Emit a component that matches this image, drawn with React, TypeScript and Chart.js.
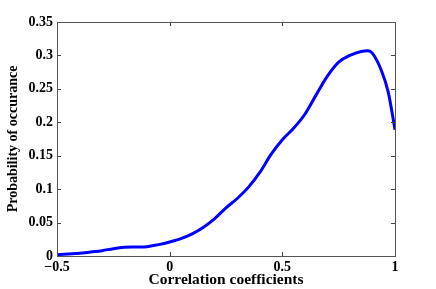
import React, { useEffect, useRef } from "react";
import { Chart, registerables } from "chart.js";

Chart.register(...registerables);

const xValues = [-0.5, -0.45, -0.4, -0.35, -0.3, -0.25, -0.2, -0.15, -0.1, -0.05, 0, 0.05, 0.1, 0.15, 0.2, 0.25, 0.3, 0.35, 0.4, 0.45, 0.5, 0.55, 0.6, 0.65, 0.7, 0.75, 0.8, 0.85, 0.88, 0.9, 0.94, 0.97, 1.0];
const yValues = [0.002, 0.003, 0.004, 0.006, 0.008, 0.011, 0.013, 0.0135, 0.014, 0.017, 0.021, 0.026, 0.033, 0.043, 0.056, 0.072, 0.086, 0.103, 0.125, 0.152, 0.174, 0.191, 0.212, 0.241, 0.269, 0.29, 0.3, 0.306, 0.307, 0.303, 0.277, 0.245, 0.189];
const xTicks = [-0.5, 0, 0.5, 1];
const yTicks = [0, 0.05, 0.1, 0.15, 0.2, 0.25, 0.3, 0.35];
const xTitle = "Correlation coefficients";
const yTitle = "Probability of occurance";

const FONT = "'Liberation Serif', 'Times New Roman', serif";

const fmt = (v: number) => (v < 0 ? "\u2212" + String(Math.abs(v)) : String(v));

const framePlugin = {
  id: "frame",
  afterDatasetsDraw(chart: any) {
    const { ctx, chartArea: a, scales } = chart;
    ctx.save();
    ctx.strokeStyle = "#444";
    ctx.lineWidth = 1;
    const L = 4;
    ctx.beginPath();
    for (const v of xTicks) {
      const px = Math.round(scales.x.getPixelForValue(v)) + 0.5;
      ctx.moveTo(px, a.bottom);
      ctx.lineTo(px, a.bottom - L);
      ctx.moveTo(px, a.top);
      ctx.lineTo(px, a.top + L);
    }
    for (const v of yTicks) {
      const py = Math.round(scales.y.getPixelForValue(v)) + 0.5;
      ctx.moveTo(a.left, py);
      ctx.lineTo(a.left + L, py);
      ctx.moveTo(a.right, py);
      ctx.lineTo(a.right - L, py);
    }
    ctx.stroke();
    ctx.strokeStyle = "#555";
    ctx.strokeRect(Math.round(a.left) + 0.5, Math.round(a.top) + 0.5, Math.round(a.right - a.left), Math.round(a.bottom - a.top));
    ctx.restore();
  },
};

export default function App() {
  const ref = useRef<HTMLCanvasElement | null>(null);
  useEffect(() => {
    if (!ref.current) return;
    const chart = new Chart(ref.current, {
      type: "line",
      data: {
        datasets: [
          {
            data: xValues.map((x, i) => ({ x, y: yValues[i] })),
            borderColor: "#0000ff",
            borderWidth: 3,
            pointRadius: 0,
            tension: 0.4,
            cubicInterpolationMode: "monotone",
            fill: false,
          },
        ],
      },
      options: {
        animation: false,
        responsive: false,
        maintainAspectRatio: false,
        layout: { padding: { top: 22, right: 41, left: 0, bottom: 0 } },
        plugins: { legend: { display: false }, tooltip: { enabled: false } },
        scales: {
          x: {
            type: "linear",
            min: -0.5,
            max: 1,
            afterBuildTicks: (s: any) => {
              s.ticks = xTicks.map((v) => ({ value: v }));
            },
            afterFit: (s: any) => {
              s.height = 33;
            },
            grid: { display: false, drawTicks: false, tickLength: 0 },
            border: { display: false },
            ticks: {
              color: "#000",
              padding: 3,
              font: { family: FONT, size: 14, weight: "bold" },
              callback: (v: any) => fmt(Number(v)),
              maxRotation: 0,
            },
            title: {
              display: true,
              text: xTitle,
              color: "#000",
              padding: { top: 0, bottom: 0 },
              font: { family: FONT, size: 15.5, weight: "bold" },
            },
          },
          y: {
            type: "linear",
            min: 0,
            max: 0.35,
            afterBuildTicks: (s: any) => {
              s.ticks = yTicks.map((v) => ({ value: v }));
            },
            afterFit: (s: any) => {
              s.width = 57;
            },
            grid: { display: false, drawTicks: false, tickLength: 0 },
            border: { display: false },
            ticks: {
              color: "#000",
              padding: 4,
              font: { family: FONT, size: 14, weight: "bold" },
              callback: (v: any) => fmt(Number(v)),
            },
            title: {
              display: true,
              text: yTitle,
              color: "#000",
              padding: { top: 5, bottom: 0 },
              font: { family: FONT, size: 14, weight: "bold" },
            },
          },
        },
      },
      plugins: [framePlugin],
    } as any);
    return () => chart.destroy();
  }, []);
  return (
    <div style={{ position: "fixed", left: 0, top: 0, width: 436, height: 289, background: "#fff" }}>
      <canvas ref={ref} width={436} height={289} style={{ width: 436, height: 289 }} />
    </div>
  );
}
